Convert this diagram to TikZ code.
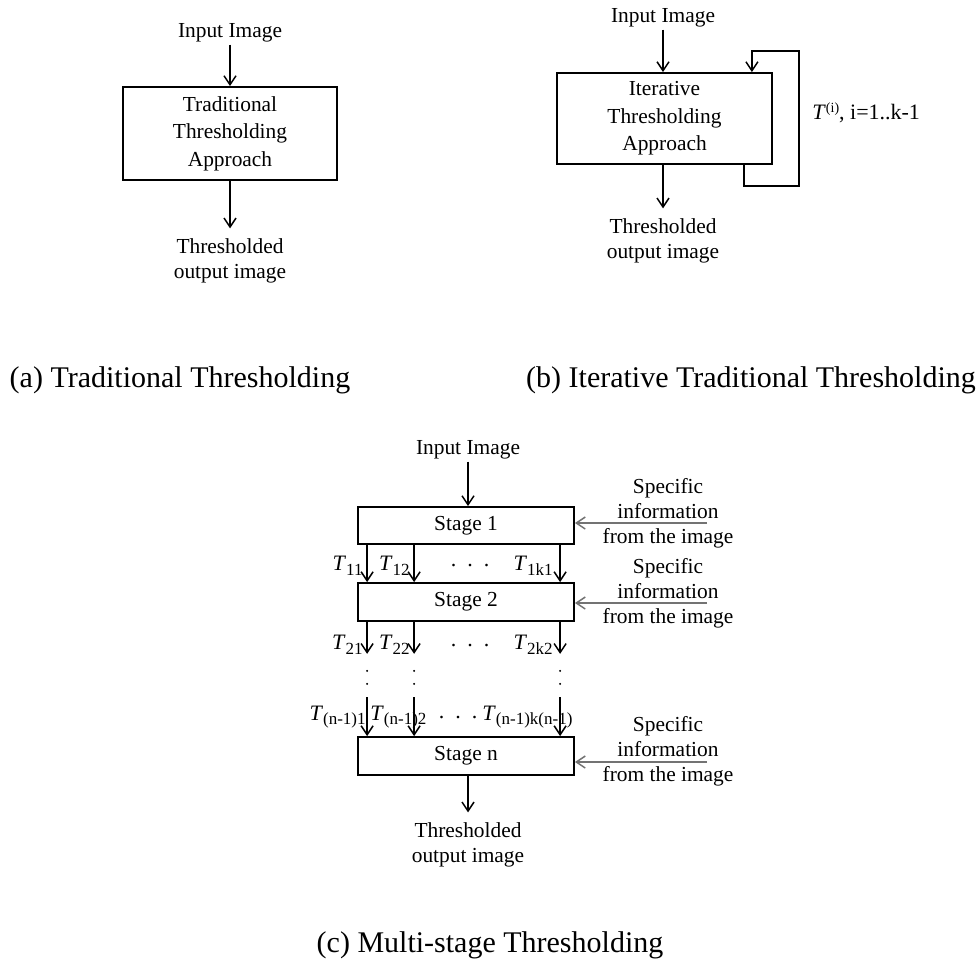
\documentclass[tikz,border=0pt]{standalone}
\usepackage{fontspec}
\setmainfont{Liberation Serif}
\usetikzlibrary{arrows.meta,calc}
\newcommand\Tlab[1]{\textit{T}\raisebox{-0.45ex}{\fontsize{8.5}{9}\selectfont #1}}
\begin{document}
\begin{tikzpicture}[x=0.5pt,y=-0.5pt,
 box/.style={draw, line width=0.9pt, inner sep=0pt, align=center, font=\fontsize{10.7}{13.7}\selectfont},
 lbl/.style={align=center, inner sep=1pt, font=\fontsize{10.7}{12.5}\selectfont},
 arr/.style={line width=0.75pt, -{Straight Barb[length=4.5pt,width=6pt]}},
 garr/.style={arr, draw=black!55},
 tl/.style={inner sep=0pt, font=\fontsize{11}{12}\selectfont},
 captext/.style={inner sep=0pt, font=\fontsize{15}{18}\selectfont}]
\useasboundingbox (0,0) rectangle (977,973);

% ---------- (a)
\node[lbl] (inA) at (230,33) {Input Image};
\node[box, minimum width=107pt, minimum height=46.5pt] (boxA) at (230,133.5) {Traditional\\Thresholding\\Approach};
\node[lbl] (outA) at (230,261) {Thresholded\\output image};
\draw[arr] (inA) -- (boxA);
\draw[arr, shorten >=4pt] (boxA) -- (outA);
\node[captext] (capA) at (180,380) {(a) Traditional Thresholding};

% ---------- (b)
\node[lbl] (inB) at (663,18) {Input Image};
\node[box, minimum width=107.5pt, minimum height=45.5pt] (boxB) at (664.5,118.5) {Iterative\\Thresholding\\Approach};
\node[lbl] (outB) at (663,241) {Thresholded\\output image};
\draw[arr] (inB) -- (inB |- boxB.north);
\draw[arr, shorten >=4pt] (boxB.south -| outB) -- (outB);
\draw[arr] ([xshift=-14.5pt]boxB.south east) -- ++(0,21) -- ++(55,0) -- ++(0,-135) -- ++(-47,0) -- ([xshift=-10.5pt]boxB.north east);
\node[tl, anchor=west] (fbB) at (812,113) {\textit{T}\raisebox{0.75ex}{\fontsize{7}{8}\selectfont(i)}, i=1..k-1};
\node[captext] (capB) at (751,380) {(b) Iterative Traditional Thresholding};

% ---------- (c)
\node[lbl] (inC) at (468,450) {Input Image};
\node[box, minimum width=108pt, minimum height=18.5pt] (S1) at (466,525.5) {Stage 1};
\node[box, minimum width=108pt, minimum height=19pt] (S2) at (466,602) {Stage 2};
\node[box, minimum width=108pt, minimum height=19pt] (Sn) at (466,756) {Stage n};
\node[lbl] (outC) at (468,845) {Thresholded\\output image};
\draw[arr] (inC) -- (inC |- S1.north);
\draw[arr, shorten >=4pt] (outC |- Sn.south) -- (outC);

% stage arrows
\foreach \dx/\nm in {10/a,57/b,203/c}{
  \draw[arr] ($(S1.south west)+(\dx,0)$) -- ($(S2.north west)+(\dx,0)$);
  \coordinate (d1\nm) at ($(S2.south west)+(\dx,32)$);
  \draw[arr] ($(S2.south west)+(\dx,0)$) -- (d1\nm);
  \coordinate (d2\nm) at ($(Sn.north west)+(\dx,-39)$);
  \draw[arr] (d2\nm) -- ($(Sn.north west)+(\dx,0)$);
  \fill ($(S2.south west)+(\dx,49)$) circle (1.1);
  \fill ($(S2.south west)+(\dx,62)$) circle (1.1);
}

\node[tl, anchor=east] (t11) at (363,566) {\Tlab{11}};
\node[tl, anchor=east] (t12) at (410,566) {\Tlab{12}};
\node[tl] (dt1) at (470,566) {.\hspace{0.5em}.\hspace{0.5em}.};
\node[tl, anchor=east] (t1k) at (553,566) {\Tlab{1k1}};

\node[tl, anchor=east] (t21) at (363,645) {\Tlab{21}};
\node[tl, anchor=east] (t22) at (410,645) {\Tlab{22}};
\node[tl] (dt2) at (470,645) {.\hspace{0.5em}.\hspace{0.5em}.};
\node[tl, anchor=east] (t2k) at (553,645) {\Tlab{2k2}};

\node[tl, anchor=east] (tn1) at (366,717) {\Tlab{(n-1)1}};
\node[tl, anchor=west] (tn2) at (370,717) {\Tlab{(n-1)2}};
\node[tl] (dt3) at (458,717) {.\hspace{0.5em}.\hspace{0.5em}.};
\node[tl, anchor=west] (tnk) at (482,717) {\Tlab{(n-1)k(n-1)}};

% specific information
\node[lbl] (si1) at (668,513) {Specific\\information\\from the image};
\node[lbl] (si2) at (668,593) {Specific\\information\\from the image};
\node[lbl] (si3) at (668,751) {Specific\\information\\from the image};
\coordinate (e1) at (707,523);
\coordinate (e2) at (707,603);
\coordinate (e3) at (707,762);
\draw[garr] (e1) -- (e1 -| S1.east);
\draw[garr] (e2) -- (e2 -| S2.east);
\draw[garr] (e3) -- (e3 -| Sn.east);

\node[captext] (capC) at (490,945) {(c) Multi-stage Thresholding};
\end{tikzpicture}
\end{document}
